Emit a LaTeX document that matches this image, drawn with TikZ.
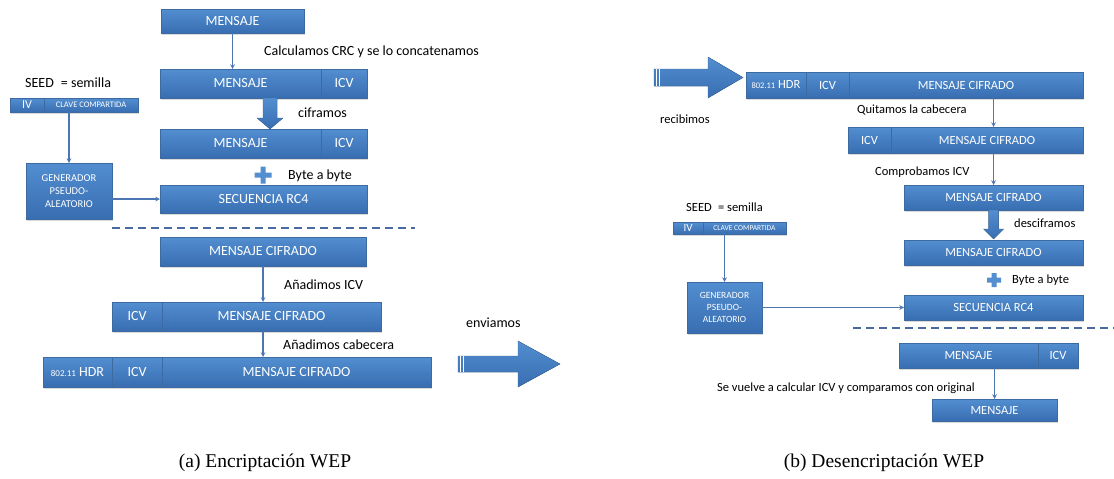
\documentclass[tikz,border=0pt]{standalone}
\usepackage{fontspec}
\setmainfont{Carlito}
\newfontfamily\capfont{Liberation Serif}
\usetikzlibrary{arrows, positioning, shadows}

\definecolor{boxtop}{RGB}{82,142,208}
\definecolor{boxbot}{RGB}{56,110,177}
\definecolor{boxline}{RGB}{62,106,162}
\definecolor{flowblue}{RGB}{76,118,178}
\definecolor{dashblue}{RGB}{72,106,160}

\begin{document}
\begin{tikzpicture}[
        x=1pt, y=-1pt,
        seg/.style={rectangle, draw=boxline, line width=0.4pt, top color=boxtop, bottom color=boxbot, text=white, anchor=north west, inner sep=0pt, outer sep=0pt, font=\fontsize{14}{16}\selectfont, drop shadow={opacity=0.3, shadow xshift=1pt, shadow yshift=-2pt}},
        segr/.style={seg, font=\fontsize{12.5}{15}\selectfont},
        gen/.style={align=center},
        lbl/.style={anchor=west, inner sep=0pt, font=\fontsize{14}{16}\selectfont},
        lblr/.style={lbl, font=\fontsize{12.5}{15}\selectfont},
        captxt/.style={inner sep=0pt, font=\capfont\fontsize{19.5}{22}\selectfont},
        flow/.style={->, >=stealth, draw=flowblue, line width=1.1pt},
        blockfill/.style={top color=boxtop, bottom color=boxbot, draw=boxline, line width=0.3pt},
        sep/.style={draw=dashblue, line width=1.5pt, dash pattern=on 8pt off 5pt}
    ]
    \useasboundingbox (0,0) rectangle (1114,479);

    % encriptacion
    \node[seg, minimum width=143, minimum height=24] (msg) at (161,9) {MENSAJE};
    \node[seg, minimum width=161, minimum height=29] (crcmsg) at (160,69) {MENSAJE};
    \node[seg, minimum width=46, minimum height=29] (crcicv) at (crcmsg.north east) {ICV};
    \node[seg, minimum width=161, minimum height=29] (encmsg) at (160,129) {MENSAJE};
    \node[seg, minimum width=46, minimum height=29] (encicv) at (encmsg.north east) {ICV};
    \node[seg, minimum width=207, minimum height=28] (rcA) at (160,185) {SECUENCIA RC4};

    \node[lbl] (seedA) at (25,83) {SEED\enspace= semilla};
    \node[seg, font=\fontsize{12}{14}\selectfont, minimum width=34, minimum height=14] (ivA) at (10,98) {IV};
    \node[seg, font=\fontsize{8.5}{10}\selectfont, minimum width=94, minimum height=14] (keyA) at (ivA.north east) {CLAVE COMPARTIDA};
    \node[seg, gen, font=\fontsize{10.5}{13}\selectfont, minimum width=86, minimum height=56] (prngA) at (26,163) {GENERADOR\\PSEUDO-\\ALEATORIO};

    \node[seg, minimum width=206, minimum height=29] (cifA) at (160,237) {MENSAJE CIFRADO};
    \node[seg, minimum width=50, minimum height=29] (addicv) at (112,302) {ICV};
    \node[seg, minimum width=219, minimum height=29] (addmsg) at (addicv.north east) {MENSAJE CIFRADO};
    \node[seg, minimum width=69, minimum height=30] (hdr) at (43,357) {{\fontsize{9}{10}\selectfont 802.11} HDR};
    \node[seg, minimum width=50, minimum height=30] (hdricv) at (hdr.north east) {ICV};
    \node[seg, minimum width=269, minimum height=30] (hdrmsg) at (hdricv.north east) {MENSAJE CIFRADO};

    \node[lbl] (crc) at (264,52) {Calculamos CRC y se lo concatenamos};
    \node[lbl] (cif) at (298,113) {ciframos};
    \node[lbl] (bytA) at (288,176) {Byte a byte};
    \node[lbl] (anicv) at (284,285) {Añadimos ICV};
    \node[lbl] (ancab) at (283,345) {Añadimos cabecera};
    \node[lbl] (env) at (466,323) {enviamos};

    \draw[flow] (msg.south) -- (msg.south |- crcmsg.north);
    \draw[flow] (keyA.south -| prngA.north) -- (prngA.north);
    \draw[flow] (prngA.east |- rcA.west) -- (rcA.west);
    \draw[flow] (cifA.south) -- (cifA.south |- addmsg.north);
    \draw[flow] (addmsg.south -| cifA.south) -- (cifA.south |- hdrmsg.north);

    \fill[blockfill] (263,98) -- (277,98) -- (277,118) -- (283,118) -- (270,129) -- (257,118) -- (263,118) -- cycle;
    \fill[boxtop] (254.5,172.5) rectangle (271.5,177.5) (260.5,166.5) rectangle (265.5,183.5);
    \draw[sep] (112,228) -- (415,228);

    \fill[blockfill] (458,356) -- (518,356) -- (518,341) -- (560,364) -- (518,387) -- (518,372) -- (458,372) -- cycle;
    \draw[white, line width=0.7pt] (460.5,356) -- (460.5,372) (463.5,356) -- (463.5,372);

    % desencriptacion
    \fill[blockfill] (654,69) -- (708,69) -- (708,57) -- (743,77.5) -- (708,98) -- (708,86) -- (654,86) -- cycle;
    \draw[white, line width=0.7pt] (656.5,69) -- (656.5,86) (659.5,69) -- (659.5,86);
    \node[lblr] (rec) at (660,119) {recibimos};

    \node[segr, minimum width=60, minimum height=26] (rhdr) at (746,72) {{\fontsize{8.5}{10}\selectfont 802.11} HDR};
    \node[segr, minimum width=43, minimum height=26] (rhdricv) at (rhdr.north east) {ICV};
    \node[segr, minimum width=234, minimum height=26] (rhdrmsg) at (rhdricv.north east) {MENSAJE CIFRADO};
    \node[segr, minimum width=43, minimum height=26] (ricv) at (848,127) {ICV};
    \node[segr, minimum width=192, minimum height=26] (ricvmsg) at (ricv.north east) {MENSAJE CIFRADO};
    \node[segr, minimum width=179, minimum height=25] (rcif) at (904,185) {MENSAJE CIFRADO};
    \node[segr, minimum width=179, minimum height=25] (rdec) at (904,240) {MENSAJE CIFRADO};
    \node[segr, minimum width=179, minimum height=25] (rcB) at (904,295) {SECUENCIA RC4};
    \node[segr, minimum width=139, minimum height=25] (rmsg) at (899,343) {MENSAJE};
    \node[segr, minimum width=40, minimum height=25] (rmsgicv) at (rmsg.north east) {ICV};
    \node[segr, minimum width=125, minimum height=22] (rfin) at (932,399) {MENSAJE};

    \node[lblr] (seedB) at (686,207) {SEED\enspace= semilla};
    \node[segr, font=\fontsize{11}{12}\selectfont, minimum width=30, minimum height=12] (ivB) at (673,222) {IV};
    \node[segr, font=\fontsize{7.5}{9}\selectfont, minimum width=83, minimum height=12] (keyB) at (ivB.north east) {CLAVE COMPARTIDA};
    \node[segr, gen, font=\fontsize{9.5}{11.7}\selectfont, minimum width=75, minimum height=51] (prngB) at (687,282) {GENERADOR\\PSEUDO-\\ALEATORIO};

    \node[lblr] (quit) at (857,110) {Quitamos la cabecera};
    \node[lblr] (comp) at (875,172) {Comprobamos ICV};
    \node[lblr] (desc) at (1014,223) {desciframos};
    \node[lblr] (bytB) at (1012,280) {Byte a byte};
    \node[lblr] (recalc) at (717,388) {Se vuelve a calcular ICV y comparamos con original};

    \draw[flow] (rhdrmsg.south -| rcif.south) -- (rcif.south |- ricvmsg.north);
    \draw[flow] (ricvmsg.south -| rcif.north) -- (rcif.north);
    \draw[flow] (keyB.south -| prngB.north) -- (prngB.north);
    \draw[flow] (prngB.east) -- (rcB.west);
    \draw[flow] (rmsg.south -| rfin.north) -- (rfin.north);

    \fill[blockfill] (988.5,210) -- (998.5,210) -- (998.5,229) -- (1003.5,229) -- (993.5,239) -- (983.5,229) -- (988.5,229) -- cycle;
    \fill[boxtop] (987,277.5) rectangle (1001,282.5) (991.5,273) rectangle (996.5,287);
    \draw[sep] (853,328) -- (1114,328);

    \node[captxt] (capa) at (265,463) {(a) Encriptación WEP};
    \node[captxt] (capb) at (884,463) {(b) Desencriptación WEP};
\end{tikzpicture}
\end{document}
